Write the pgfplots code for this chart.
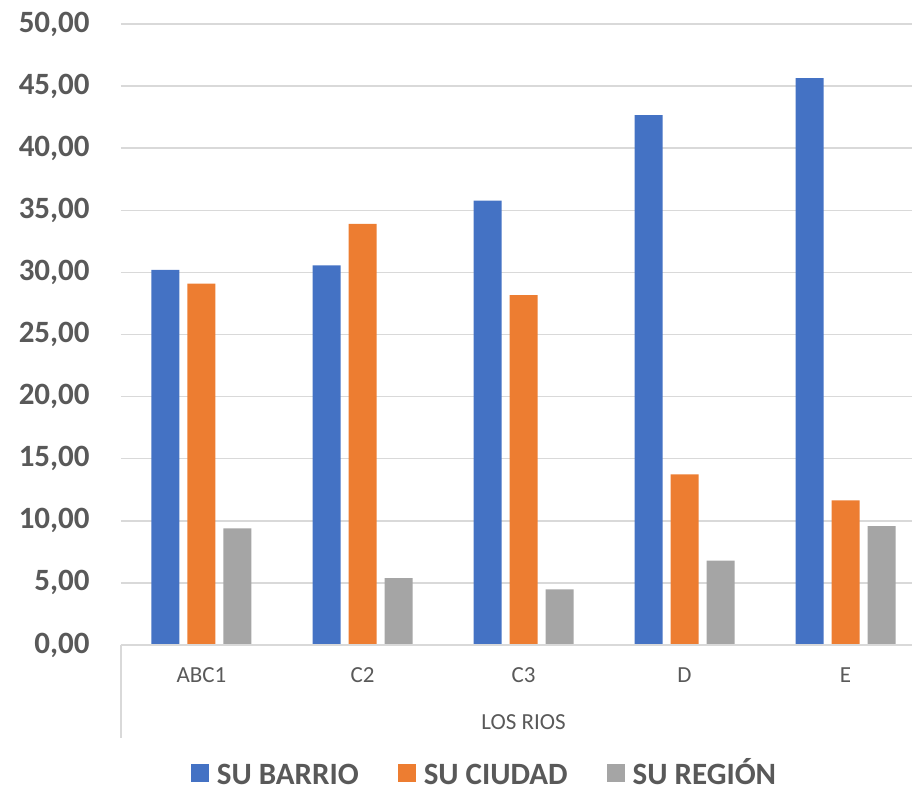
\documentclass[border=0pt]{standalone}
\usepackage{pgfplots}
\pgfplotsset{compat=1.18}
\usepackage{fontspec}
\setmainfont{Carlito}
\definecolor{cblue}{HTML}{4472C4}
\definecolor{corange}{HTML}{ED7D31}
\definecolor{cgray}{HTML}{A5A5A5}
\definecolor{txt}{HTML}{595959}
\definecolor{grid}{HTML}{D9D9D9}
\begin{document}
\begin{tikzpicture}
\begin{axis}[
  scale only axis,
  width=395.5pt, height=310.5pt,
  at={(0,0)}, anchor=south west,
  ybar=4pt, bar width=14pt,
  xmin=-0.5, xmax=4.413,
  ymin=0, ymax=50,
  ytick={0,5,...,50},
  xtick=data,
  xticklabels={ABC1,C2,C3,D,E},
  axis line style={draw=none},
  major tick length=0pt,
  ymajorgrids,
  grid style={draw=grid, line width=0.75pt},
  /pgf/number format/.cd, fixed, fixed zerofill, precision=2, use comma, assume math mode=true,
  /pgfplots/.cd,
  yticklabel style={font=\fontsize{15.5pt}{18pt}\selectfont\bfseries, text=txt, anchor=east, inner sep=0pt, xshift=-15.5pt},
  xticklabel style={font=\fontsize{11.5pt}{14pt}\selectfont, text=txt, inner sep=0pt, anchor=center, yshift=-15pt},
  legend columns=3,
  legend style={draw=none, at={(181.5pt,-64pt)}, anchor=center, font=\fontsize{15.5pt}{18pt}\selectfont\bfseries, text=txt,
    nodes={text height=11pt, text depth=0pt, inner sep=0.5pt},
    /tikz/every odd column/.append style={column sep=3.5pt},
    /tikz/every even column/.append style={column sep=19pt}},
  legend image code/.code={\fill[#1, draw=none] (0pt,-4.5pt) rectangle (9pt,4.5pt);},
  legend cell align=left,
  clip=false,
]
\addplot[fill=cblue, draw=none] coordinates {(0,30.20) (1,30.57) (2,35.77) (3,42.67) (4,45.65)};
\addplot[fill=corange, draw=none] coordinates {(0,29.10) (1,33.90) (2,28.18) (3,13.74) (4,11.65)};
\addplot[fill=cgray, draw=none] coordinates {(0,9.39) (1,5.39) (2,4.48) (3,6.79) (4,9.58)};
\legend{SU BARRIO,SU CIUDAD,SU REGIÓN}
\draw[grid, line width=0.75pt] (rel axis cs:0,0) -- (rel axis cs:1,0);
\draw[grid, line width=0.75pt] (rel axis cs:0,0) -- ([yshift=-46.5pt]rel axis cs:0,0);
\node[font=\fontsize{11.5pt}{14pt}\selectfont, text=txt, inner sep=0pt] at ([yshift=-38.5pt]axis cs:2,0) {LOS RIOS};
\end{axis}
\pgfresetboundingbox
\path[use as bounding box] (-60.5pt,-72pt) rectangle (395.5pt,322.5pt);
\end{tikzpicture}
\end{document}
